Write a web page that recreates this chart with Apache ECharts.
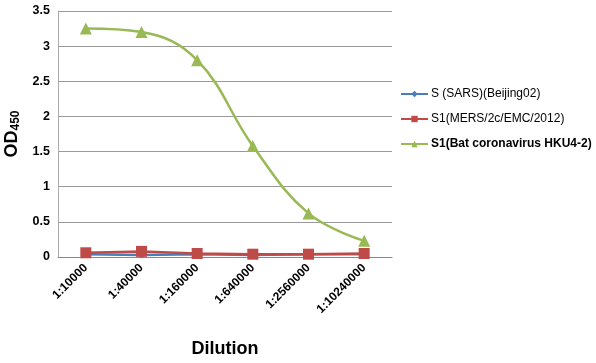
<!DOCTYPE html>
<html><head><meta charset="utf-8">
<script src="https://cdn.jsdelivr.net/npm/echarts@6/dist/echarts.min.js"></script>
<style>html,body{margin:0;padding:0;background:#fff}#c{width:596px;height:363px}</style>
</head><body><div id="c"></div>
<script>
const categories = ['1:10000','1:40000','1:160000','1:640000','1:2560000','1:10240000'];
const sars = [0.04, 0.03, 0.04, 0.03, 0.04, 0.04];
const mers = [0.06, 0.08, 0.05, 0.04, 0.04, 0.05];
const hku4 = [3.25, 3.2, 2.8, 1.58, 0.62, 0.23];
const seriesNames = ['S (SARS)(Beijing02)', 'S1(MERS/2c/EMC/2012)', 'S1(Bat coronavirus HKU4-2)'];
const yTicks = [0, 0.5, 1, 1.5, 2, 2.5, 3, 3.5];

const chart = echarts.init(document.getElementById('c'));
const font = 'Liberation Sans, Arial, sans-serif';
chart.setOption({
  animation: false,
  grid: {left: 58, right: 204, top: 11, bottom: 106, containLabel: false, outerBoundsMode: 'none'},
  legend: {
    orient: 'vertical', left: 395, top: 83, itemGap: 13,
    itemWidth: 27, itemHeight: 8, itemGap: 13,
    textStyle: {fontFamily: font, fontSize: 12, color: '#000', padding: [0,0,0,-2],
      rich: {b: {fontWeight: 'bold', fontFamily: font, fontSize: 12}}},
    formatter: n => n === seriesNames[2] ? '{b|' + n + '}' : n,
    data: seriesNames
  },
  xAxis: {
    type: 'category', data: categories, boundaryGap: true,
    name: 'Dilution', nameLocation: 'middle', nameGap: 83,
    nameTextStyle: {fontFamily: font, fontSize: 18, fontWeight: 'bold', color: '#000'},
    axisLine: {lineStyle: {color: '#888'}},
    axisTick: {show: false},
    axisLabel: {rotate: 45, fontFamily: font, fontSize: 12, fontWeight: 'bold', color: '#000', margin: 9}
  },
  yAxis: {
    type: 'value', min: 0, max: 3.5, interval: 0.5,
    name: 'OD{s|450}', nameLocation: 'middle', nameGap: 28, nameRotate: 90,
    nameTextStyle: {fontFamily: font, fontSize: 18, fontWeight: 'bold', color: '#000',
      rich: {s: {fontFamily: font, fontSize: 12, fontWeight: 'bold', color: '#000', verticalAlign: 'bottom', padding: [8,0,0,0]}}},
    axisLine: {show: true, lineStyle: {color: '#aaa'}},
    axisTick: {show: false},
    splitLine: {lineStyle: {color: '#999'}},
    axisLabel: {fontFamily: font, fontSize: 12.5, fontWeight: 'bold', color: '#000', margin: 8,
      formatter: v => yTicks.includes(v) ? String(v) : ''}
  },
  series: [
    {name: seriesNames[0], type: 'line', data: sars, symbol: 'diamond', symbolSize: 7,
     itemStyle: {color: '#4a7ebb'}, lineStyle: {color: '#4a7ebb', width: 2.5}},
    {name: seriesNames[1], type: 'line', data: mers, symbol: 'rect', symbolSize: 11,
     itemStyle: {color: '#be4b48'}, lineStyle: {color: '#be4b48', width: 2.5}},
    {name: seriesNames[2], type: 'line', data: hku4, symbol: 'triangle', symbolSize: 12, smooth: 0.4,
     itemStyle: {color: '#98b954'}, lineStyle: {color: '#98b954', width: 2.5}}
  ]
});
</script></body></html>
